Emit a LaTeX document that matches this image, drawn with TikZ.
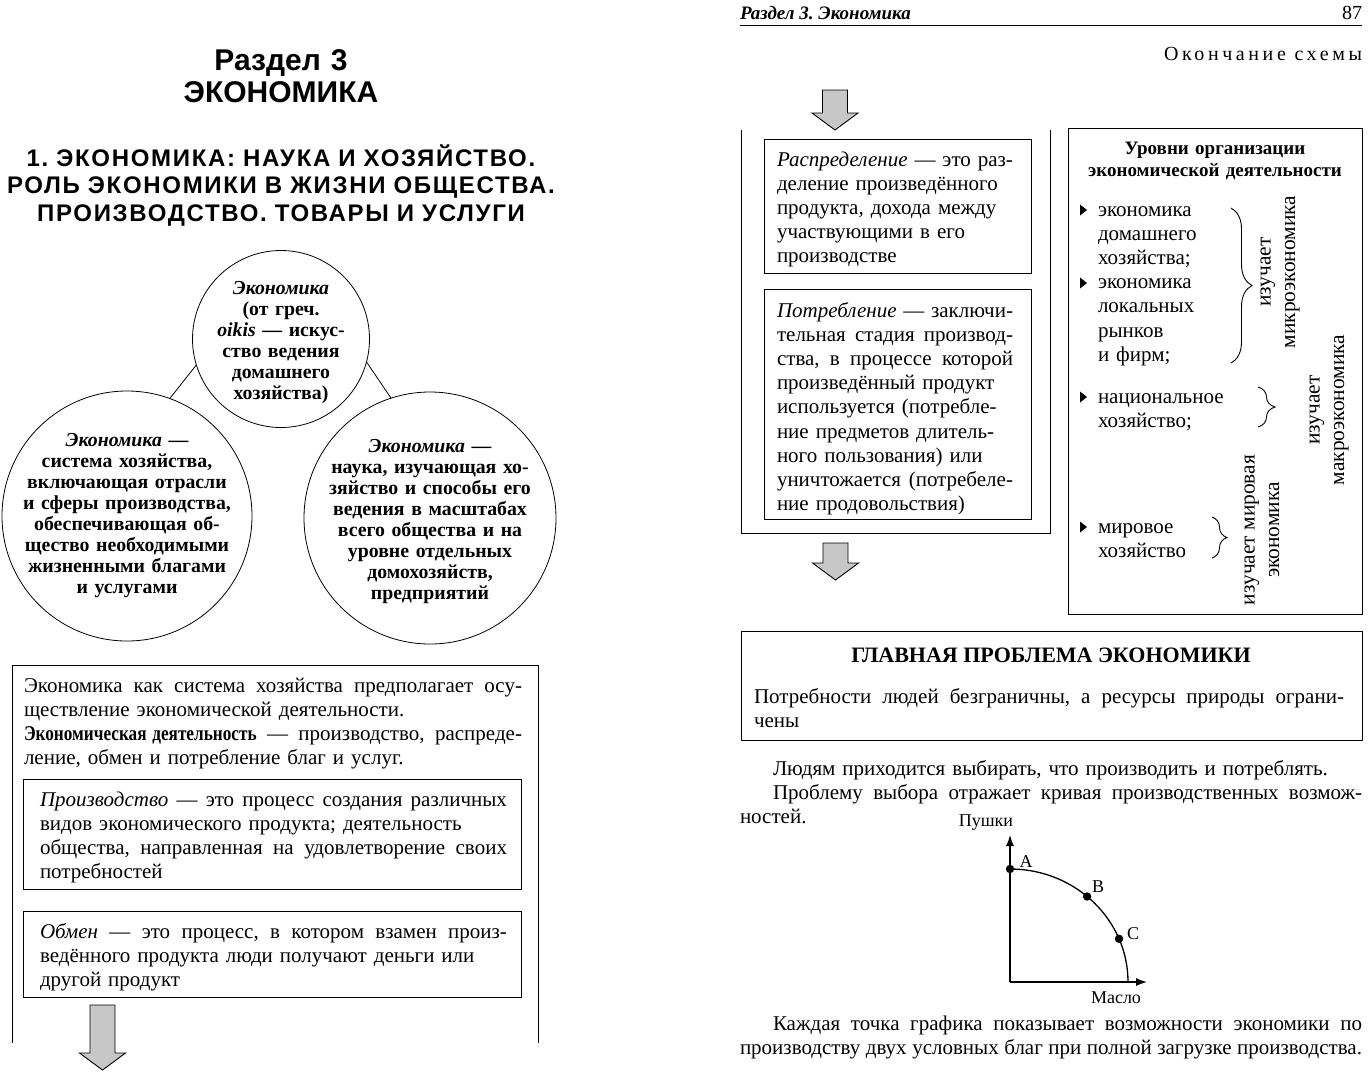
\documentclass[tikz,border=0pt]{standalone}
\usepackage{fontspec}
\usepackage{graphicx}
\setmainfont{Liberation Serif}
\setsansfont{Liberation Sans}
\usetikzlibrary{positioning,arrows.meta,decorations.pathreplacing}
\frenchspacing

\newlength\jwidth
% justified lines (plain, indented, without line break)
\newcommand\jx[1]{\makebox[\jwidth][s]{\spaceskip=.3333em plus .6em minus .2em\relax #1}}
\newcommand\jl[1]{\jx{#1}\\}
\newcommand\jli[1]{\hspace*{33pt}\makebox[\dimexpr\jwidth-33pt\relax][s]{%
  \spaceskip=.3333em plus .6em minus .2em\relax #1}\\}
% grey block arrow: x, top y, shaft length
\newcommand\blockarr[3]{%
  \filldraw[blockfill] (#1-12.5,#2) -- (#1+12.5,#2) -- (#1+12.5,#2+#3)
    -- (#1+23,#2+#3) -- (#1,#2+#3+17) -- (#1-23,#2+#3) -- (#1-12.5,#2+#3) -- cycle;}

\begin{document}
\begin{tikzpicture}[
  x=1pt, y=-1pt,
  every node/.style={inner sep=0pt, outer sep=0pt},
  txt/.style={font=\fontsize{21}{24.2}\selectfont, align=left, anchor=base west},
  para/.style={txt, text width=#1, execute at begin node={\setlength{\jwidth}{#1}}},
  ctext/.style={font=\bfseries\fontsize{19.8}{21}\selectfont, align=center},
  circ/.style={circle, draw, line width=0.8pt},
  head/.style={font=\sffamily\bfseries\fontsize{30}{32}\selectfont, text width=560pt,
               align=center, anchor=base},
  subhead/.style={font=\sffamily\bfseries\addfontfeature{LetterSpace=7}\fontsize{24}{27.5}\selectfont,
                  text width=600pt, align=center, anchor=base},
  frame/.style={draw, line width=1pt},
  blockfill/.style={fill=black!22, draw=black, line width=0.9pt},
  rot/.style={font=\fontsize{21.4}{24.5}\selectfont, align=center, rotate=90},
  brc/.style={decorate, line width=0.9pt},
  axis/.style={-{Latex[length=11pt, width=8pt]}, line width=1.1pt},
  ptlab/.style={font=\fontsize{18}{20}\selectfont},
]
\useasboundingbox (0,0) rectangle (1368,1072);

% ---------- left page
\node[head] (razdel) at (281,70) {Раздел 3\\ЭКОНОМИКА};
\node[subhead] (title) at (281,166)
  {1. ЭКОНОМИКА: НАУКА И ХОЗЯЙСТВО.\\РОЛЬ ЭКОНОМИКИ В ЖИЗНИ ОБЩЕСТВА.\\ПРОИЗВОДСТВО. ТОВАРЫ И УСЛУГИ};

\node[circ, minimum size=177pt] (top) at (281,339) {};
\node[circ, minimum size=250pt] (lt) at (127,516) {};
\node[circ, minimum size=252pt] (rt) at (430,518) {};
\node[ctext, text width=170pt] (toptxt) at (281,343)
  {\textit{Экономика}\\(от греч.\\\textit{oikis} — искус-\\ство ведения\\домашнего\\хозяйства)};
\node[ctext, text width=245pt] (lttxt) at (lt)
  {\textit{Экономика} —\\система хозяйства,\\включающая отрасли\\и сферы производства,\\обеспечивающая об-\\щество необходимыми\\жизненными благами\\и услугами};
\node[ctext, text width=245pt] (rttxt) at (430,522)
  {\textit{Экономика} —\\наука, изучающая хо-\\зяйство и способы его\\ведения в масштабах\\всего общества и на\\уровне отдельных\\домохозяйств,\\предприятий};
\draw[line width=0.8pt] (top.197) -- (lt.70);
\draw[line width=0.8pt] (top.345) -- (rt.108);

\draw[frame] (12,1043) -- (12,665) -- (538,665) -- (538,1043);
\node[para=498pt] (system) at (24,692)
  {\jl{Экономика как система хозяйства предполагает осу-}
   ществление экономической деятельности.\\
   \jl{\textbf{\scalebox{0.82}[1]{Экономическая деятельность}} — производство, распреде-}
   ление, обмен и потребление благ и услуг.};

\draw[frame] (23,779) rectangle (521,889);
\node[para=467pt] (proizv) at (40,806)
  {\jl{\textit{Производство} — это процесс создания различных}
   видов экономического продукта; деятельность\\
   \jl{общества, направленная на удовлетворение своих}
   потребностей};

\draw[frame] (23,911) rectangle (521,997);
\node[para=467pt] (obmen) at (40,938)
  {\jl{\textit{Обмен} — это процесс, в котором взамен произ-}
   ведённого продукта люди получают деньги или\\
   другой продукт};

\blockarr{102.5}{1005}{48}

% ---------- right page
\node[anchor=base west, font=\bfseries\itshape\fontsize{19}{20}\selectfont] (runhead) at (740,19)
  {Раздел 3. Экономика};
\node[anchor=base east, font=\fontsize{20}{20}\selectfont] (pageno) at (1362,19) {87};
\draw[line width=0.9pt] (740,25) -- (1362,25);
\node[anchor=base east, font=\addfontfeature{LetterSpace=18}\fontsize{20}{20}\selectfont] (ending)
  at (1362,60) {Окончание схемы};

\blockarr{835}{90}{23}
\draw[frame] (741,130) -- (741,533) -- (1050,533) -- (1050,130);

\draw[frame] (764,139) rectangle (1031,273);
\node[para=236pt] (raspr) at (777,166)
  {\jl{\textit{Распределение} — это раз-}
   деление произведённого\\
   продукта, дохода между\\
   участвующими в его\\
   производстве};

\draw[frame] (764,289) rectangle (1031,519);
\node[para=236pt] (potreb) at (777,317)
  {\jl{\textit{Потребление} — заключи-}
   \jl{тельная стадия производ-}
   \jl{ства, в процессе которой}
   произведённый продукт\\
   используется (потребле-\\
   ние предметов длитель-\\
   ного пользования) или\\
   \jl{уничтожается (потребеле-}
   ние продовольствия)};

\blockarr{835.5}{543}{20}

% levels of economic activity
\draw[frame] (1068,128) rectangle (1362,614);
\node[font=\bfseries\fontsize{19}{22}\selectfont, text width=290pt, align=center, anchor=base]
  (levels) at (1215,154) {Уровни организации\\экономической деятельности};
\node[para=140pt] (items1) at (1098,216)
  {экономика\\домашнего\\хозяйства;\\экономика\\локальных\\рынков\\и фирм;};
\node[para=140pt] (items2) at (1098,403) {национальное\\хозяйство;};
\node[para=140pt] (items3) at (1098,533) {мировое\\хозяйство};
\foreach \yy in {210,283,397,527}
  \fill (1080,\yy-5.5) -- (1087,\yy) -- (1080,\yy+5.5) -- cycle;

\draw[brc, decoration={brace, amplitude=21pt}] (1231,208) -- (1231,363);
\draw[brc, decoration={brace, amplitude=17pt}] (1258,387) -- (1258,427);
\draw[brc, decoration={brace, amplitude=15pt}] (1212,517) -- (1212,558);
\node[rot] (mikro) at (1280,272) {изучает\\микроэкономика};
\node[rot] (makro) at (1329,410) {изучает\\макроэкономика};
\node[rot] (mir) at (1262,530) {изучает мировая\\экономика};

% main problem
\draw[frame] (741,631) rectangle (1362,740);
\node[font=\bfseries\fontsize{22}{22}\selectfont, anchor=base] (problem) at (1051,662)
  {ГЛАВНАЯ ПРОБЛЕМА ЭКОНОМИКИ};
\node[para=590pt] (needs) at (754,703)
  {\jl{Потребности людей безграничны, а ресурсы природы ограни-}
   чены};

\node[para=622pt] (choice) at (740,775)
  {\hspace*{33pt}Людям приходится выбирать, что производить и потреблять.\\
   \jli{Проблему выбора отражает кривая производственных возмож-}
   ностей.};

% production possibilities curve
\coordinate (O) at (1010,982);
\coordinate (ytip) at (1010,835);
\coordinate (xtip) at (1147,982);
\draw[axis] (O) -- (ytip);
\draw[axis] (O) -- (xtip);
\draw[line width=1.3pt] (O) ++(118,0) arc[start angle=0, end angle=-90, x radius=118, y radius=113];
\path (O) ++(-90:118 and 113) coordinate (A);
\path (O) ++(-49.2:118 and 113) coordinate (B);
\path (O) ++(-22.5:118 and 113) coordinate (C);
\foreach \p in {A,B,C}
  \fill (\p) circle[radius=4.2];
\node[ptlab] (labA) at (1026,862) {A};
\node[ptlab] (labB) at (1098,887) {B};
\node[ptlab] (labC) at (1133,934) {C};
\node[ptlab] (guns) at (986,823) {Пушки};
\node[ptlab] (butter) at (1116,998) {Масло};

\node[para=622pt] (each) at (740,1030)
  {\jli{Каждая точка графика показывает возможности экономики по}
   \jx{производству двух условных благ при полной загрузке производства.}};
\end{tikzpicture}
\end{document}
